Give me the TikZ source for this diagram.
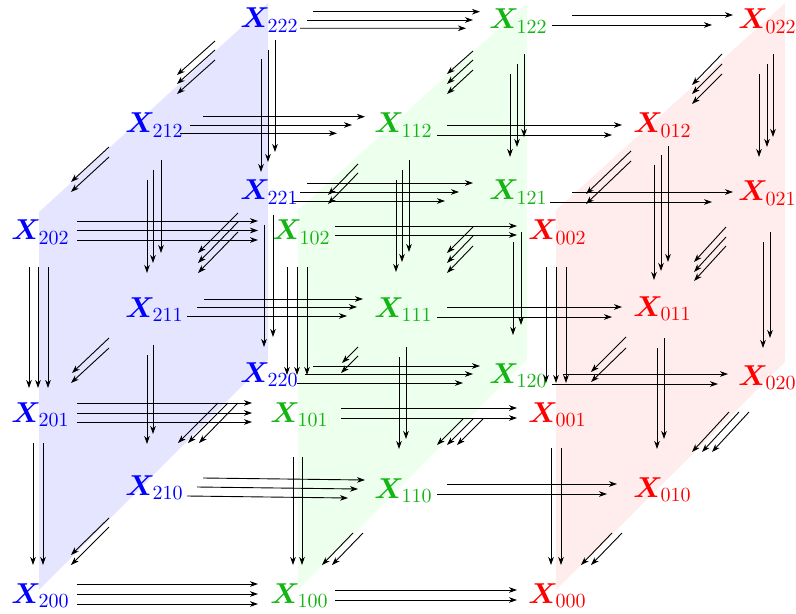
\documentclass[tikz,border=0pt]{standalone}
\usepackage{bm}
\usetikzlibrary{arrows.meta}
\definecolor{cgreen}{RGB}{20,180,20}
\newcommand\nd[4]{%
  \node[lbl, text=#4] (X#1) at (#2,#3) {$\bm{X}_{#1}$};
  \expandafter\xdef\csname npxX#1\endcsname{#2}%
  \expandafter\xdef\csname npyX#1\endcsname{#3}}
\newcommand\grp[3]{%
  \foreach \a/\b/\c/\d in {#3}{%
    \pgfmathsetmacro\gox{\a-\csname npx#1\endcsname}%
    \pgfmathsetmacro\goy{\b-\csname npy#1\endcsname}%
    \pgfmathsetmacro\gex{\c-\csname npx#2\endcsname}%
    \pgfmathsetmacro\gey{\d-\csname npy#2\endcsname}%
    \draw[arr] ([shift={(\gox,\goy)}]#1.base west) -- ([shift={(\gex,\gey)}]#2.base west);}}
\begin{document}
\begin{tikzpicture}[x=0.5pt,y=-0.5pt,
  arr/.style={-{Stealth[length=4pt,width=2.8pt,inset=1.2pt]}, line width=0.45pt},
  lbl/.style={anchor=base west, inner sep=0pt, font=\Large}]
\useasboundingbox (0,0) rectangle (796,614);
% planes
\fill[blue!10] (39,212) -- (268,3) -- (268,360) -- (39,590) -- cycle;
\fill[green!7] (298,210) -- (527,3) -- (527,360) -- (298,590) -- cycle;
\fill[red!7] (556,210) -- (785,3) -- (785,362) -- (556,590) -- cycle;
% nodes
\nd{202}{11}{240}{blue}
\nd{201}{11}{422}{blue}
\nd{200}{11}{603}{blue}
\nd{212}{125}{133}{blue}
\nd{211}{125}{317}{blue}
\nd{210}{125}{495}{blue}
\nd{222}{240}{28}{blue}
\nd{221}{240}{200}{blue}
\nd{220}{240}{382}{blue}
\nd{102}{272}{240}{cgreen}
\nd{101}{270}{422}{cgreen}
\nd{100}{270}{603}{cgreen}
\nd{112}{374}{133}{cgreen}
\nd{111}{374}{317}{cgreen}
\nd{110}{374}{498}{cgreen}
\nd{122}{489}{29}{cgreen}
\nd{121}{489}{200}{cgreen}
\nd{120}{489}{383}{cgreen}
\nd{002}{528}{240}{red}
\nd{001}{528}{422}{red}
\nd{000}{528}{603}{red}
\nd{012}{633}{133}{red}
\nd{011}{633}{316}{red}
\nd{010}{633}{497}{red}
\nd{022}{738}{29}{red}
\nd{021}{738}{201}{red}
\nd{020}{738}{385}{red}
% horizontal arrows
\grp{X202}{X102}{77/221/258/221, 77/230.5/258/230.5, 77/240/258/240}
\grp{X201}{X101}{77/403/252/403, 77/413/252/413, 77/422/252/422}
\grp{X200}{X100}{77/584/258/584, 77/594/258/594, 77/604/258/604}
\grp{X102}{X002}{335/226/517/226, 335/235/517/235}
\grp{X101}{X001}{341/408/517/408, 341/418/517/418}
\grp{X100}{X000}{335/590/517/590, 335/600/517/600}
\grp{X212}{X112}{203/116.7/365/116.7, 190/125/352/125, 180/133.3/337/133.3}
\grp{X211}{X111}{204/299/363/299, 197/307/357/307, 187/316/347/316}
\grp{X210}{X110}{203/478/365/480, 197/487/358/489, 187/496/348/498}
\grp{X112}{X012}{447/125/622/125, 437/135/612/135}
\grp{X111}{X011}{447/307/622/307, 437/317/612/317}
\grp{X110}{X010}{447/484/617/484, 437/494/607/494}
\grp{X222}{X122}{313/11.7/480/11.7, 307/20/473/20, 300/28.3/466/28.3}
\grp{X221}{X121}{307/183/473/183, 300/192/459/192, 293/201/445/201}
\grp{X220}{X120}{313/366/480/366, 305/374/473/374, 297/383/463/383}
\grp{X122}{X022}{572/15/733/15, 552/25/712/25}
\grp{X121}{X021}{572/192/733/192, 550/202/712/202}
\grp{X120}{X020}{563/374/728/374, 552/384/718/384}
% vertical arrows
\grp{X202}{X201}{29/267/29/388, 38/267/38/388, 48/267/48/388}
\grp{X201}{X200}{33/443/33/565, 43/443/43/565}
\grp{X102}{X101}{287/267/287/375, 297/267/297/375, 307/267/307/375}
\grp{X101}{X100}{293/457/293/565, 302/457/302/565}
\grp{X002}{X001}{546/267/546/383, 556/267/556/383, 566/267/566/383}
\grp{X001}{X000}{551/448/551/565, 561/448/561/565}
\grp{X212}{X211}{147/180/147/273, 153/170/153/263, 161/160/161/253}
\grp{X211}{X210}{147/355/147/444, 153/345/153/434}
\grp{X112}{X111}{396/180/396/272, 402/170/402/262, 409/160/409/252}
\grp{X111}{X110}{399/357/399/449, 406/347/406/439}
\grp{X012}{X011}{654/165/654/280, 661/155/661/271, 668/146/668/262}
\grp{X011}{X010}{657/348/657/449, 664/338/664/439}
\grp{X222}{X221}{261/59/261/172, 268/50/268/162, 275/40/275/152}
\grp{X221}{X220}{264/225/264/347, 273/215/273/337}
\grp{X122}{X121}{510/74/510/157, 517/64/517/147, 524/54/524/137}
\grp{X121}{X120}{513/242/513/335, 521/232/521/325}
\grp{X022}{X021}{759/74/759/157, 767/64/767/147, 773/54/773/137}
\grp{X021}{X020}{763/242/763/348, 770/232/770/338}
% depth arrows
\grp{X222}{X212}{215/41/177/75, 215/50/177/84, 215/60/177/94}
\grp{X212}{X202}{109/147/71/182, 109/157/71/192}
\grp{X221}{X211}{238/213/198/253, 238/222/198/263, 238/232/198/273}
\grp{X211}{X201}{109/338/72/373, 109/348/71/383}
\grp{X220}{X210}{218/403/178/443, 228/403/188/443, 238/403/199/443}
\grp{X210}{X200}{109/518/71/555, 109/527/71/565}
\grp{X122}{X112}{473/51/447/74, 473/60/447/84, 473/70/447/94}
\grp{X112}{X102}{358/164/328/195, 358/173/328/204}
\grp{X121}{X111}{473/227/447/253, 473/236/447/263, 473/246/447/273}
\grp{X111}{X101}{358/347/342/363, 358/356/341/373}
\grp{X120}{X110}{463/419/437/445, 473/419/447/445, 483/419/457/445}
\grp{X110}{X100}{353/533/322/565, 363/533/332/565}
\grp{X022}{X012}{722/54/692/85, 722/64/692/94, 722/74/692/104}
\grp{X012}{X002}{631/151/586/194, 631/161/586/204}
\grp{X021}{X011}{726/227/694/262, 726/237/694/272, 726/246/694/281}
\grp{X011}{X001}{626/337/591/372, 626/348/591/382}
\grp{X020}{X010}{729/412/692/452, 739/412/702/452, 749/412/712/452}
\grp{X010}{X000}{612/533/581/565, 622/533/591/565}
\end{tikzpicture}
\end{document}
